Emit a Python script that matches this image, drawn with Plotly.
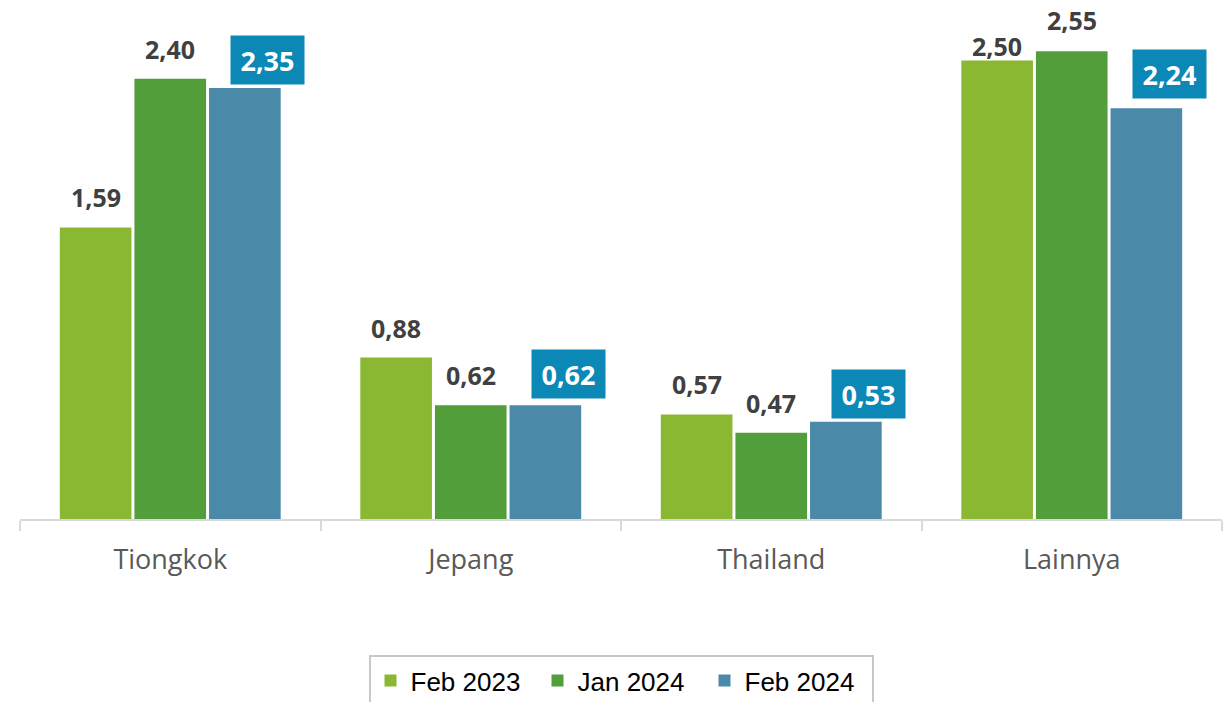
import plotly.graph_objects as go

# Data
categories = ["Tiongkok", "Jepang", "Thailand", "Lainnya"]
series_names = ["Feb 2023", "Jan 2024", "Feb 2024"]
feb_2023 = [1.59, 0.88, 0.57, 2.50]
jan_2024 = [2.40, 0.62, 0.47, 2.55]
feb_2024 = [2.35, 0.62, 0.53, 2.24]

# Styling
colors = ["#8BB833", "#529E3A", "#4A8AA8"]
highlight_bg = "#0B88B5"
label_color = "#404040"
bargap = 0.255
bargroupgap = 0.04
# vertical lift (px) of each value label above its bar, per series
label_lift = [[30, 30, 30, 15], [30, 30, 30, 31], [28, 31, 28, 34]]

series_values = [feb_2023, jan_2024, feb_2024]

fig = go.Figure()
for name, vals, col in zip(series_names, series_values, colors):
    fig.add_trace(go.Bar(
        x=categories, y=vals, name=name,
        marker=dict(color=col, line=dict(width=0)),
        hoverinfo="x+y+name",
    ))

def fmt(v):
    return f"{v:.2f}".replace(".", ",")

slot = (1 - bargap) / 3
annotations = []
for s, vals in enumerate(series_values):
    offset = (s - 1) * slot
    for i, v in enumerate(vals):
        if s < 2:
            annotations.append(dict(
                x=i + offset, y=v, xref="x", yref="y",
                text=fmt(v), showarrow=False,
                yanchor="middle", yshift=label_lift[s][i],
                font=dict(family="Open Sans", size=25, color=label_color, weight="bold"),
            ))
        else:
            annotations.append(dict(
                x=i + offset, y=v, xref="x", yref="y",
                text=fmt(v), showarrow=False,
                yanchor="middle", yshift=label_lift[s][i], xshift=23,
                width=61, height=36, borderpad=6,
                bgcolor=highlight_bg,
                font=dict(family="Open Sans", size=27, color="#FFFFFF", weight="bold"),
            ))

fig.update_layout(
    width=1228, height=702,
    margin=dict(l=20, r=6, t=0, b=183, autoexpand=False),
    paper_bgcolor="white", plot_bgcolor="white",
    barmode="group", bargap=bargap, bargroupgap=bargroupgap,
    annotations=annotations,
    showlegend=True,
    legend=dict(
        orientation="h", x=0.5, xanchor="center", y=-0.262, yanchor="top",
        font=dict(family="Liberation Sans, Arial", size=26, color="#000000"),
        bordercolor="#C8C8C8", borderwidth=2,
        itemwidth=30, traceorder="normal",
        entrywidth=122, entrywidthmode="pixels",
    ),
    xaxis=dict(
        type="category", automargin=False,
        showline=True, linecolor="#D9D9D9", linewidth=2,
        ticks="outside", tickson="boundaries", ticklen=10, tickcolor="#D9D9D9", tickwidth=2,
        ticklabelstandoff=16,
        tickfont=dict(family="Open Sans", size=27, color="#595959"),
        showgrid=False, zeroline=False,
    ),
    yaxis=dict(
        range=[0, 2.83], visible=False, showgrid=False, zeroline=False,
    ),
)

fig.write_html("out.html")
